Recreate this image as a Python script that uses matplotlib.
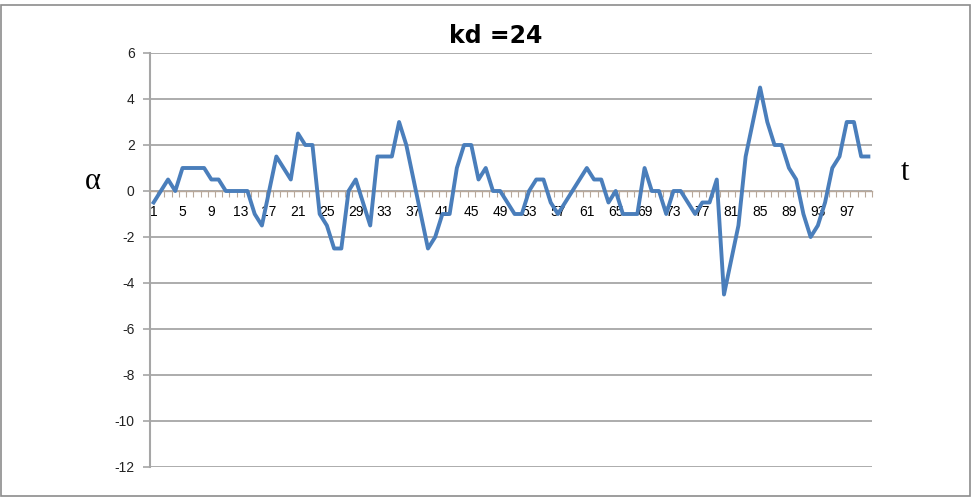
import numpy as np
import matplotlib
matplotlib.use('Agg')
import matplotlib.pyplot as plt
from matplotlib import font_manager
from matplotlib.patches import Rectangle

plt.close('all')

# valeurs (t = 1..100)
t = np.arange(1, 101)
alpha = [-0.5, 0, 0.5, 0, 1, 1, 1, 1, 0.5, 0.5,
         0, 0, 0, 0, -1, -1.5, 0, 1.5, 1, 0.5,
         2.5, 2, 2, -1, -1.5, -2.5, -2.5, 0, 0.5, -0.5,
         -1.5, 1.5, 1.5, 1.5, 3, 2, 0.5, -1, -2.5, -2,
         -1, -1, 1, 2, 2, 0.5, 1, 0, 0, -0.5,
         -1, -1, 0, 0.5, 0.5, -0.5, -1, -0.5, 0, 0.5,
         1, 0.5, 0.5, -0.5, 0, -1, -1, -1, 1, 0,
         0, -1, 0, 0, -0.5, -1, -0.5, -0.5, 0.5, -4.5,
         -3, -1.5, 1.5, 3, 4.5, 3, 2, 2, 1, 0.5,
         -1, -2, -1.5, -0.5, 1, 1.5, 3, 3, 1.5, 1.5]
yticks = np.arange(-12, 7, 2)
xlabels = t[::4]
titre = 'kd =24'

noms = {f.name for f in font_manager.fontManager.ttflist}
police = 'Liberation Sans Narrow' if 'Liberation Sans Narrow' in noms else 'Liberation Sans'
plt.rcParams['font.family'] = [police, 'DejaVu Sans']

W, H = 975, 499
fig = plt.figure(figsize=(W / 100, H / 100), dpi=100)
ax = fig.add_axes([150 / W, 1 - 467 / H, (872 - 150) / W, (467 - 53) / H])

gris = '#a6a6a6'
ax.plot(t, alpha, color='#4a7ebb', lw=2.8, solid_joinstyle='round', zorder=3)

ax.set_xlim(0.5, 100.5)
ax.set_ylim(-12, 6)
ax.set_yticks(yticks)
ax.set_yticklabels([str(v) for v in yticks], fontsize=10, color='#222222')
ax.yaxis.grid(True, color=gris, lw=1.3)
ax.set_axisbelow(True)

ax.set_xticks(xlabels)
ax.set_xticklabels([str(v) for v in xlabels], fontsize=10, color='#222222')
ax.set_xticks(np.arange(0.5, 101, 1), minor=True)
ax.tick_params(axis='x', which='major', length=0, pad=10)
ax.tick_params(axis='x', which='minor', length=4, width=0.8, color='#b8a89a', direction='out')
ax.tick_params(axis='y', length=5, width=1.2, color=gris, pad=6)

for s in ['top', 'right']:
    ax.spines[s].set_visible(False)
ax.spines['bottom'].set_position(('data', 0))
ax.spines['bottom'].set_color('#b8a89a')
ax.spines['bottom'].set_linewidth(1.0)
ax.spines['left'].set_color(gris)
ax.spines['left'].set_linewidth(1.5)

fig.text(496 / W, 1 - 36 / H, titre, fontsize=17, fontweight='bold', family='DejaVu Sans',
         ha='center', va='center')

fig.text(93 / W, 1 - 182 / H, 'α', fontsize=22, ha='center', va='center',
         family=['Liberation Serif', 'DejaVu Serif'])
fig.text(905 / W, 1 - 173 / H, 't', fontsize=22, ha='center', va='center',
         family=['Liberation Serif', 'DejaVu Serif'])

# cadre du graphique
fig.patches.append(Rectangle((1 / W, 1 - 496 / H), 969 / W, 491 / H, transform=fig.transFigure,
                             fill=False, edgecolor='#8c8c8c', lw=1.2))

fig.savefig('out.png', dpi=100)
